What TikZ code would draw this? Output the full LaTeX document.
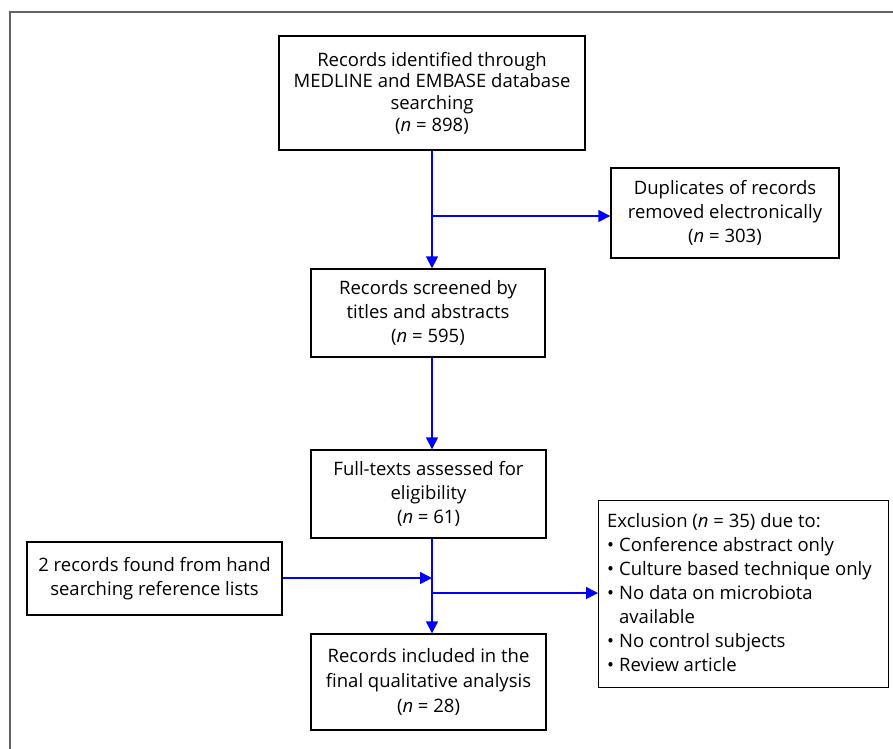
\documentclass[tikz,border=0pt]{standalone}
\usepackage{fontspec}
\setmainfont{Open Sans}
\usetikzlibrary{arrows.meta}
\definecolor{arrowblue}{RGB}{0,0,255}
\definecolor{framegray}{RGB}{100,100,100}
\begin{document}
\begin{tikzpicture}[x=1pt,y=-1pt,
  box/.style={draw=black,line width=1.4pt,align=center,inner sep=0pt,
    font=\fontsize{18.5}{24.3}\selectfont},
  flow/.style={draw=arrowblue,line width=1.5pt,-{Triangle[length=12pt,width=12pt]}}]
\useasboundingbox (0,0) rectangle (893,748);
\fill[white] (0,0) rectangle (893,748);
\draw[framegray,line width=2pt] (10,12) rectangle (910,770);

\node[box,minimum width=306pt,minimum height=114pt,font=\fontsize{18.5}{21.7}\selectfont] (ident) at (432,93)
  {Records identified through\\MEDLINE and EMBASE database\\searching\\(\textit{n} = 898)};
\node[box,minimum width=228pt,minimum height=90pt] (dup) at (725,213)
  {Duplicates of records\\removed electronically\\(\textit{n} = 303)};
\node[box,minimum width=234pt,minimum height=88pt] (screen) at (428,313)
  {Records screened by\\titles and abstracts\\(\textit{n} = 595)};
\node[box,minimum width=235pt,minimum height=88pt] (full) at (428.5,494)
  {Full-texts assessed for\\eligibility\\(\textit{n} = 61)};
\node[box,minimum width=255pt,minimum height=73pt] (hand) at (154.5,578.5)
  {2 records found from hand\\searching reference lists};
\node[box,minimum width=235pt,minimum height=96pt,font=\fontsize{18.5}{25}\selectfont] (final) at (428.5,682)
  {Records included in the\\final qualitative analysis\\(\textit{n} = 28)};
\node[box,minimum width=290pt,minimum height=187pt,anchor=north west] (excl) at (598,500) {};
\node[anchor=north west,inner sep=0pt,font=\fontsize{18.5}{24}\selectfont,align=left] (excltext) at (607,510)
  {\begin{tabular}{@{}l@{\hspace{5pt}}l@{}}
   \multicolumn{2}{@{}l@{}}{Exclusion (\textit{n} = 35) due to:}\\
   • & Conference abstract only\\
   • & Culture based technique only\\
   • & No data on microbiota\\
     & available\\
   • & No control subjects\\
   • & Review article
  \end{tabular}};

\coordinate (spine) at (432,0);
\coordinate (j1) at (432,216);
\coordinate (j2) at (432,578);
\coordinate (j3) at (432,593);

\draw[flow] (ident.south -| spine) -- (screen.north -| spine);
\draw[flow] (j1) -- (j1 -| dup.west);
\draw[flow] (screen.south -| spine) -- (full.north -| spine);
\draw[flow] (full.south -| spine) -- (final.north -| spine);
\draw[flow] (hand.east |- j2) -- (j2);
\draw[flow] (j3) -- (j3 -| excl.west);
\end{tikzpicture}
\end{document}
